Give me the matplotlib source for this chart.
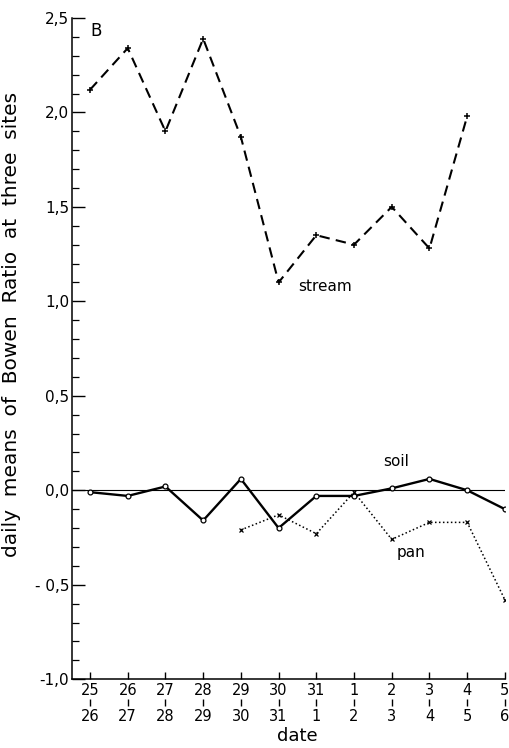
import matplotlib

matplotlib.use("Agg")
import matplotlib.pyplot as plt
import matplotlib.transforms as mtransforms
import numpy as np


DATES_TOP = ["25", "26", "27", "28", "29", "30", "31", "1", "2", "3", "4", "5"]
DATES_BOTTOM = ["26", "27", "28", "29", "30", "31", "1", "2", "3", "4", "5", "6"]

STREAM = [2.12, 2.34, 1.90, 2.39, 1.87, 1.10, 1.35, 1.30, 1.50, 1.28, 1.98]
SOIL = [-0.01, -0.03, 0.02, -0.16, 0.06, -0.20, -0.03, -0.03, 0.01, 0.06, 0.00, -0.10]
PAN = [-0.21, -0.13, -0.23, -0.01, -0.26, -0.17, -0.17, -0.58]
PAN_START = 4

Y_TICKS = [-1.0, -0.5, 0.0, 0.5, 1.0, 1.5, 2.0, 2.5]
Y_TICK_LABELS = ["-1,0", "- 0,5", "0,0", "0,5", "1,0", "1,5", "2,0", "2,5"]


def main():
    plt.rcParams.update({"font.family": "DejaVu Sans", "font.size": 10})
    fig = plt.figure(figsize=(5.10, 7.48), dpi=100)
    ax = fig.add_axes([0.141, 0.092, 0.849, 0.884])

    x = np.arange(len(DATES_TOP))

    ax.axhline(0.0, color="black", linewidth=0.8, zorder=1)

    ax.plot(x[:len(STREAM)], STREAM, color="black", linestyle=(0, (5, 3)),
            linewidth=1.5, marker="+", markersize=5, markeredgewidth=1.1)
    ax.plot(x, SOIL, color="black", linestyle="-", linewidth=1.7,
            marker="o", markersize=3.5, markerfacecolor="white",
            markeredgewidth=0.9)
    ax.plot(x[PAN_START:PAN_START + len(PAN)], PAN, color="black",
            linestyle=(0, (1, 1.6)), linewidth=1.1, marker="x",
            markersize=3.5, markeredgewidth=0.9)

    ax.set_xlim(-0.48, len(DATES_TOP) - 1)
    ax.set_ylim(-1.0, 2.5)

    ax.set_yticks(Y_TICKS)
    ax.set_yticklabels(Y_TICK_LABELS)
    ax.set_yticks(np.arange(-1.0, 2.51, 0.1), minor=True)
    ax.tick_params(axis="y", which="major", direction="in", length=9,
                   width=1.0, pad=2, labelsize=11)
    ax.tick_params(axis="y", which="minor", direction="in", length=5,
                   width=0.9)

    ax.set_xticks(x)
    ax.set_xticklabels([f"{t}\n{b}" for t, b in zip(DATES_TOP, DATES_BOTTOM)],
                       linespacing=1.9)
    ax.tick_params(axis="x", which="major", direction="in", length=5,
                   width=1.0, pad=3, labelsize=10.5)

    # small separator mark between the two dates of each tick
    trans = mtransforms.blended_transform_factory(ax.transData, ax.transAxes)
    for xi in x:
        ax.plot([xi, xi], [-0.030, -0.040], color="black", linewidth=1.0,
                transform=trans, clip_on=False, solid_capstyle="butt")

    for side in ("top", "right"):
        ax.spines[side].set_visible(False)
    for side in ("left", "bottom"):
        ax.spines[side].set_linewidth(1.1)

    ax.set_xlabel("date", fontsize=13, labelpad=0)
    ax.xaxis.set_label_coords(0.52, -0.073)
    ax.set_ylabel("daily  means  of  Bowen  Ratio  at  three  sites",
                  fontsize=14.5)
    ax.yaxis.set_label_coords(-0.118, 0.537)

    ax.text(0.0, 2.43, "B", fontsize=12, ha="left", va="center")
    ax.text(5.52, 1.08, "stream", fontsize=11, ha="left", va="center")
    ax.text(7.77, 0.15, "soil", fontsize=11, ha="left", va="center")
    ax.text(8.14, -0.33, "pan", fontsize=11, ha="left", va="center")

    fig.savefig("out.png", dpi=100, facecolor="white")
    plt.close(fig)


if __name__ == "__main__":
    main()
